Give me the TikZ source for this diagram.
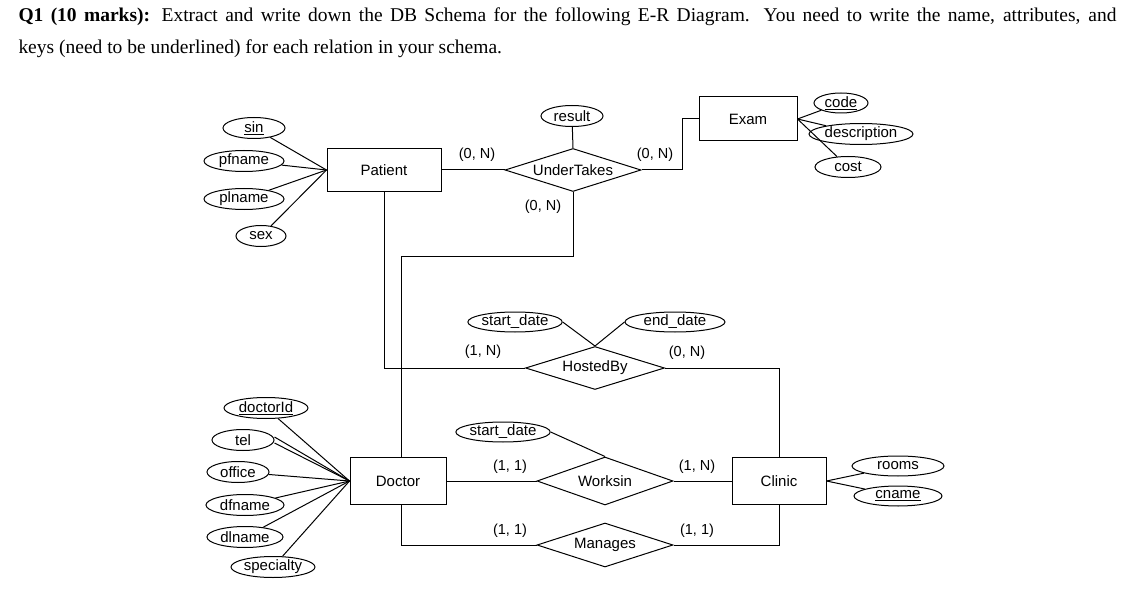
\documentclass[tikz,border=0pt]{standalone}
\usepackage{fontspec}
\setmainfont{Liberation Serif}
\newfontfamily\diag{Liberation Sans}
\usetikzlibrary{shapes.geometric}
\begin{document}
\begin{tikzpicture}[x=1pt,y=-1pt,line width=1pt,
  ent/.style={draw,rectangle,inner sep=0pt,font=\diag\fontsize{15}{17}\selectfont},
  rel/.style={draw,diamond,aspect=3,inner sep=0pt,font=\diag\fontsize{15}{17}\selectfont},
  att/.style={draw,ellipse,inner sep=0pt,minimum height=21pt,font=\diag\fontsize{15}{17}\selectfont},
  card/.style={font=\diag\fontsize{14.5}{17}\selectfont},
  title/.style={anchor=north west,inner sep=0pt,text width=1098pt,align=justify,font=\fontsize{19.5}{32}\selectfont}]
\useasboundingbox (0,0) rectangle (1144,591);
\node[title] (t1) at (18,7) {\textbf{Q1 (10 marks):} Extract and write down the DB Schema for the following E-R Diagram. You need to write the name, attributes, and\linebreak keys (need to be underlined) for each relation in your schema.};
% entities
\node[ent,minimum width=114pt,minimum height=43pt] (pat) at (384,170) {Patient};
\node[ent,minimum width=98pt,minimum height=44pt] (exam) at (748,119) {Exam};
\node[ent,minimum width=96pt,minimum height=47pt] (doc) at (398,481) {Doctor};
\node[ent,minimum width=94pt,minimum height=47pt] (cli) at (779,481) {Clinic};
% relationships
\node[rel,minimum width=136pt,minimum height=43pt] (und) at (573,170) {UnderTakes};
\node[rel,minimum width=139pt,minimum height=43pt] (host) at (595,368) {HostedBy};
\node[rel,minimum width=136pt,minimum height=48pt] (work) at (605,481) {Worksin};
\node[rel,minimum width=136pt,minimum height=44pt] (man) at (605,545) {Manages};
% attributes
\node[att,minimum width=62pt] (res) at (572,116) {result};
\node[att,minimum width=54pt,minimum height=20pt] (code) at (841,103) {\underline{code}};
\node[att,minimum width=104pt] (desc) at (861,134) {description};
\node[att,minimum width=66pt] (cost) at (848,167) {cost};
\node[att,minimum width=62pt] (sin) at (254,128) {\underline{sin}};
\node[att,minimum width=80pt] (pfn) at (244,161) {pfname};
\node[att,minimum width=80pt] (pln) at (244,199) {plname};
\node[att,minimum width=50pt] (sex) at (261,236) {sex};
\node[att,minimum width=92pt,minimum height=20pt] (sd1) at (515,322) {start\_date};
\node[att,minimum width=100pt,minimum height=20pt] (ed1) at (675,322) {end\_date};
\node[att,minimum width=88pt,minimum height=20pt] (sd2) at (503,432) {start\_date};
\node[att,minimum width=84pt] (did) at (266,408) {\underline{doctorId}};
\node[att,minimum width=62pt] (tel) at (243,440) {tel};
\node[att,minimum width=62pt] (off) at (238,472) {office};
\node[att,minimum width=78pt] (dfn) at (245,505) {dfname};
\node[att,minimum width=76pt] (dln) at (245,537) {dlname};
\node[att,minimum width=84pt] (spe) at (273,567) {specialty};
\node[att,minimum width=92pt,minimum height=20pt] (room) at (898,466) {rooms};
\node[att,minimum width=88pt,minimum height=20pt] (cna) at (898,496) {\underline{cname}};
% attribute links
\foreach \a in {sin,pfn,pln,sex} \draw (\a) -- (pat.west);
\foreach \a in {code,desc,cost} \draw (\a) -- (exam.east);
\foreach \a in {did,off,dfn,dln,spe} \draw (\a) -- (doc.west);
\draw ([yshift=-3pt]tel.east) -- (doc.west);
\draw ([yshift=3pt]tel.east) -- (doc.west);
\foreach \a in {room,cna} \draw (\a) -- (cli.east);
\draw (res) -- (und.north);
\draw (sd1.east) -- (host.north);
\draw (ed1.west) -- (host.north);
\draw (sd2.east) -- (work.north);
% relationship links
\draw (pat.east) -- (und.west);
\draw (und.east) -- (682,170) |- (exam.west);
\draw (und.south) |- (401,256) -- (401,458);
\draw (pat.south) |- (host.west);
\draw (host.east) -| (cli.north);
\draw (doc.east) -- (work.west);
\draw (work.east) -- (cli.west);
\draw (401,504.5) |- (man.west);
\draw (man.east) -| (cli.south);
% cardinalities
\node[card] (c1) at (477,155) {(0, N)};
\node[card] (c2) at (655,155) {(0, N)};
\node[card] (c3) at (543,207) {(0, N)};
\node[card] (c4) at (483,352) {(1, N)};
\node[card] (c5) at (687,353) {(0, N)};
\node[card] (c6) at (510,467) {(1, 1)};
\node[card] (c7) at (697,467) {(1, N)};
\node[card] (c8) at (510,531) {(1, 1)};
\node[card] (c9) at (697,531) {(1, 1)};
\end{tikzpicture}
\end{document}
